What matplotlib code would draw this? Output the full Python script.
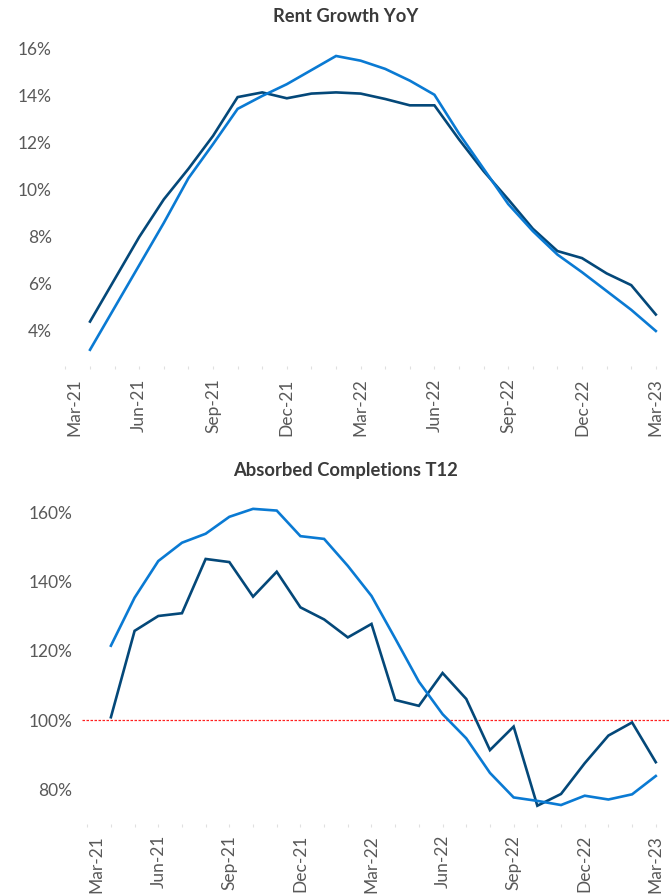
import numpy as np
import matplotlib
matplotlib.use("Agg")
import matplotlib.pyplot as plt
from matplotlib.ticker import FuncFormatter, FixedLocator
from matplotlib.transforms import ScaledTranslation

plt.rcParams['font.family'] = ['Lato', 'DejaVu Sans']

# Months Apr-21 .. Mar-23 (month offset from Mar-21)
month_idx = list(range(1, 25))
tick_pos = [0, 3, 6, 9, 12, 15, 18, 21, 24]
tick_labels = ["Mar-21", "Jun-21", "Sep-21", "Dec-21", "Mar-22",
               "Jun-22", "Sep-22", "Dec-22", "Mar-23"]

# Rent Growth YoY (%)
rent_dark = [4.4, 6.2, 8.0, 9.6, 10.9, 12.3, 13.95, 14.15, 13.9, 14.1, 14.15, 14.1,
             13.87, 13.6, 13.6, 12.15, 10.8, 9.6, 8.35, 7.4, 7.1, 6.45, 5.95, 4.7]
rent_light = [3.2, 5.0, 6.8, 8.6, 10.5, 11.95, 13.45, 14.0, 14.5, 15.1, 15.7, 15.5,
              15.15, 14.65, 14.05, 12.4, 10.9, 9.4, 8.25, 7.25, 6.5, 5.7, 4.9, 4.0]

# Absorbed Completions T12 (%)
abs_dark = [100.8, 125.8, 130.1, 130.9, 146.6, 145.7, 135.7, 142.9, 132.6, 129.1, 123.9, 127.8,
            105.8, 104.1, 113.6, 106.1, 91.3, 98.1, 75.2, 78.6, 87.5, 95.5, 99.3, 87.8]
abs_light = [121.5, 135.4, 146.0, 151.3, 153.9, 158.8, 161.1, 160.6, 153.2, 152.4, 144.6, 135.9,
             123.6, 111.1, 101.7, 94.7, 84.7, 77.6, 76.6, 75.4, 78.1, 77.0, 78.5, 83.8]
threshold = 100

DARK = '#044879'
LIGHT = '#0A7AD3'
TXT = '#595959'
TITLE = '#3A3A3A'

W, H = 671, 894
fig = plt.figure(figsize=(W / 100, H / 100), dpi=100)


def px_axes(left, top, right, bottom):
    return fig.add_axes([left / W, 1 - bottom / H, (right - left) / W, (bottom - top) / H])


def style(ax, fmt, ypad, xpad):
    for s in ['top', 'right', 'left', 'bottom']:
        ax.spines[s].set_visible(False)
    ax.yaxis.set_major_formatter(FuncFormatter(fmt))
    ax.tick_params(axis='y', length=0, pad=ypad, labelsize=12.5, labelcolor=TXT)
    ax.set_xticks(tick_pos)
    ax.set_xticklabels(tick_labels, rotation=90, ha='center', va='top')
    ax.xaxis.set_minor_locator(FixedLocator(list(range(0, 25))))
    ax.tick_params(axis='x', which='both', length=2, width=0.8, color='#E0E0E0',
                   pad=xpad, labelsize=12.5, labelcolor=TXT)
    lbl = ax.get_xticklabels()[0]
    lbl.set_transform(lbl.get_transform() + ScaledTranslation(9 / 100, 0, fig.dpi_scale_trans))


# ---- Top chart ----
ax1 = px_axes(64.2, 32, 663.2, 366)
ax1.plot(month_idx, rent_dark, color=DARK, lw=1.9, solid_joinstyle='miter')
ax1.plot(month_idx, rent_light, color=LIGHT, lw=1.9, solid_joinstyle='miter')
ax1.set_xlim(-0.05, 24.3)
ax1.set_ylim(2.51, 16.72)
ax1.set_yticks([4, 6, 8, 10, 12, 14, 16])
style(ax1, lambda v, p: f"{v:.0f}%", 9, 7)
fig.text(346 / W, 1 - 16 / H, "Rent Growth YoY", ha='center', va='center',
         fontsize=13.2, fontweight='bold', color=TITLE)

# ---- Bottom chart ----
ax2 = px_axes(82, 485, 670, 823.7)
ax2.axhline(threshold, color='#FF2020', lw=0.9, ls=(0, (2, 1.2)))
ax2.plot(month_idx, abs_dark, color=DARK, lw=1.9, solid_joinstyle='miter')
ax2.plot(month_idx, abs_light, color=LIGHT, lw=1.9, solid_joinstyle='miter')
ax2.set_xlim(-0.22, 24.6)
ax2.set_ylim(70, 168)
ax2.set_yticks([80, 100, 120, 140, 160])
style(ax2, lambda v, p: f"{v:.0f}%", 7, 6)
fig.text(346 / W, 1 - 471 / H, "Absorbed Completions T12", ha='center', va='center',
         fontsize=13.2, fontweight='bold', color=TITLE)

fig.savefig("out.png", dpi=100, facecolor='white')
